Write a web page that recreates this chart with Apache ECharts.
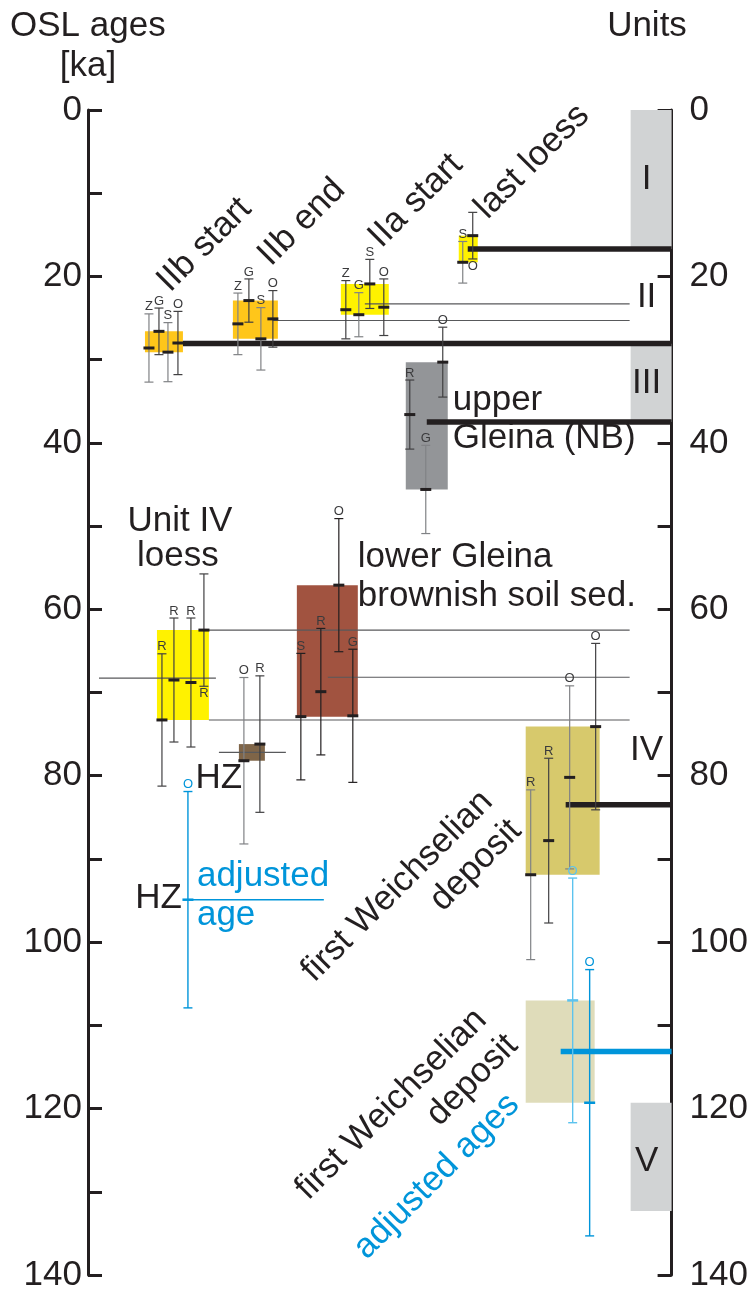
<!DOCTYPE html>
<html>
<head>
<meta charset="utf-8">
<script src="https://cdn.jsdelivr.net/npm/echarts@6/dist/echarts.min.js"></script>
<style>
  html, body { margin: 0; padding: 0; background: #fff; }
  #chart { width: 751px; height: 1293px; }
</style>
</head>
<body>
<div id="chart"></div>
<script>
// ---- Age axis (ka) ----
const ageMin = 0;
const ageMax = 140;
const ageTickStep = 10;
const ageTickLabels = [0, 20, 40, 60, 80, 100, 120, 140];

// ---- OSL ages per sample group: sample code, age (ka), 1-sigma error (ka) ----
const iibStartSamples = ['Z', 'G', 'S', 'O'];
const iibStartAges    = [28.6, 26.6, 29.1, 28.0];
const iibStartErrors  = [4.1, 2.8, 3.55, 3.8];

const iibEndSamples = ['Z', 'G', 'S', 'O'];
const iibEndAges    = [25.7, 22.9, 27.5, 25.1];
const iibEndErrors  = [3.7, 2.6, 3.75, 3.4];

const iiaStartSamples = ['Z', 'G', 'S', 'O'];
const iiaStartAges    = [24.0, 24.6, 20.9, 23.7];
const iiaStartErrors  = [3.5, 2.65, 2.95, 3.4];

const lastLoessSamples = ['S', 'O'];
const lastLoessAges    = [18.3, 15.1];
const lastLoessErrors  = [2.5, 2.8];

const upperGleinaSamples = ['R', 'G', 'O'];
const upperGleinaAges    = [36.6, 45.6, 30.3];
const upperGleinaErrors  = [4.15, 5.3, 4.2];

const unitIVLoessSamples = ['R', 'R', 'R', 'R'];
const unitIVLoessAges    = [73.3, 68.5, 68.8, 62.5];
const unitIVLoessErrors  = [7.95, 7.45, 7.75, 6.75];

const hzSamples = ['O', 'R'];
const hzAges    = [78.2, 76.2];
const hzErrors  = [10.0, 8.2];

const lowerGleinaSamples = ['S', 'R', 'O', 'G'];
const lowerGleinaAges    = [72.9, 69.9, 57.1, 72.8];
const lowerGleinaErrors  = [7.6, 7.6, 8.0, 8.0];

const firstWeichselianSamples = ['R', 'R', 'O', 'O'];
const firstWeichselianAges    = [91.9, 87.8, 80.2, 74.1];
const firstWeichselianErrors  = [10.2, 9.9, 11.0, 10.0];

const adjustedWeichselianSamples = ['O', 'O'];
const adjustedWeichselianAges    = [107.0, 119.3];
const adjustedWeichselianErrors  = [14.7, 16.0];

const hzAdjustedSamples = ['O'];
const hzAdjustedAges    = [94.9];
const hzAdjustedErrors  = [13.0];

// ---- Stratigraphic units ----
const unitNames = ['I', 'II', 'III', 'IV', 'V'];
const unitShadedBands = [[0, 16.7], [28.1, 37.5], [119.3, 132.3]];

// ---- Drawing setup ----
const FONT = '"Liberation Sans", Arial, Helvetica, sans-serif';
const INK = '#231F20';
const GREY = '#808285';
const DARK = '#414042';
const BLUE = '#0095DA';
const LIGHT_BLUE = '#5CC3EE';

// section position (horizontal units, 0..584) of each column, box span, fill, bar tones, mean line
const groups = [
  { samples: iibStartSamples, ages: iibStartAges, errors: iibStartErrors,
    cols: [61, 71, 80, 90], box: [57, 95], fill: '#FFC61A',
    tones: [GREY, DARK, GREY, DARK], mean: { from: 95, to: 584, kind: 'thick' } },
  { samples: iibEndSamples, ages: iibEndAges, errors: iibEndErrors,
    cols: [150, 161, 173, 185], box: [145, 190], fill: '#FFC61A',
    tones: [GREY, DARK, GREY, DARK], mean: { from: 185, to: 542, kind: 'thin' } },
  { samples: iiaStartSamples, ages: iiaStartAges, errors: iiaStartErrors,
    cols: [258, 271, 282, 296], box: [253, 301], fill: '#FFF200',
    tones: [DARK, GREY, DARK, DARK], mean: { from: 277, to: 542, kind: 'thin' } },
  { samples: lastLoessSamples, ages: lastLoessAges, errors: lastLoessErrors,
    cols: [375, 385], box: [371, 390], fill: '#FFF200',
    tones: [GREY, DARK], below: [false, true], mean: { from: 380, to: 584, kind: 'thick' } },
  { samples: upperGleinaSamples, ages: upperGleinaAges, errors: upperGleinaErrors,
    cols: [322, 338, 355], box: [318, 360], fill: '#939598',
    tones: [DARK, GREY, DARK], mean: { from: 339, to: 584, kind: 'thick' } },
  { samples: unitIVLoessSamples, ages: unitIVLoessAges, errors: unitIVLoessErrors,
    cols: [74, 86, 103, 116], box: [69, 121], fill: '#FFF200',
    tones: [DARK, DARK, DARK, DARK], below: [false, false, false, true],
    mean: { from: 11, to: 128, kind: 'thin' },
    edges: { minFrom: 116, maxFrom: 121, to: 542 } },
  { samples: hzSamples, ages: hzAges, errors: hzErrors,
    cols: [156, 172], box: [151, 177], fill: '#7F6548',
    tones: [GREY, DARK], mean: { from: 131, to: 198, kind: 'thin' } },
  { samples: lowerGleinaSamples, ages: lowerGleinaAges, errors: lowerGleinaErrors,
    cols: [213, 233, 251, 265], box: [209, 270], fill: '#A15340',
    tones: [INK, INK, INK, INK], mean: { from: 240, to: 542, kind: 'thin' } },
  { samples: firstWeichselianSamples, ages: firstWeichselianAges, errors: firstWeichselianErrors,
    cols: [443, 461, 482, 508], box: [438, 512], fill: '#D7C96C',
    tones: [GREY, DARK, GREY, DARK], mean: { from: 478, to: 584, kind: 'thick' } },
  { samples: adjustedWeichselianSamples, ages: adjustedWeichselianAges, errors: adjustedWeichselianErrors,
    cols: [485, 502], box: [438, 507], fill: '#DFDCBA', blue: true,
    tones: [LIGHT_BLUE, BLUE], mean: { from: 473, to: 584, kind: 'blueThick' } },
  { samples: hzAdjustedSamples, ages: hzAdjustedAges, errors: hzAdjustedErrors,
    cols: [100], box: null, blue: true,
    tones: [BLUE], mean: { from: 100, to: 236, kind: 'blueThin' } }
];

const lineStyles = {
  thick:     { stroke: INK, lineWidth: 5.5 },
  thin:      { stroke: '#58595B', lineWidth: 1.1 },
  blueThick: { stroke: BLUE, lineWidth: 5.5 },
  blueThin:  { stroke: BLUE, lineWidth: 1.6 }
};

// ---- Derived rows ----
const mean = a => a.reduce((s, v) => s + v, 0) / a.length;

const barRows = [];
const boxRows = [];
const lineRows = [];
groups.forEach(g => {
  g.samples.forEach((s, i) => {
    barRows.push({ x: g.cols[i], age: g.ages[i], err: g.errors[i], label: s,
      color: g.tones[i], blue: !!g.blue, below: g.below ? g.below[i] : false });
  });
  const lo = Math.min(...g.ages), hi = Math.max(...g.ages);
  if (g.box) boxRows.push({ x0: g.box[0], x1: g.box[1], lo, hi, fill: g.fill });
  lineRows.push({ x0: g.mean.from, x1: g.mean.to, age: mean(g.ages), kind: g.mean.kind });
  if (g.edges) {
    lineRows.push({ x0: g.edges.minFrom, x1: g.edges.to, age: lo, kind: 'thin' });
    lineRows.push({ x0: g.edges.maxFrom, x1: g.edges.to, age: hi, kind: 'thin' });
  }
});
const bandRows = unitShadedBands.map(b => ({ x0: 543, x1: 584, lo: b[0], hi: b[1] }));

function rectItem(rows, fillOf) {
  return function (params, api) {
    const r = rows[params.dataIndex];
    const p0 = api.coord([r.x0, r.lo]);
    const p1 = api.coord([r.x1, r.hi]);
    return { type: 'rect',
      shape: { x: p0[0], y: p0[1], width: p1[0] - p0[0], height: p1[1] - p0[1] },
      style: { fill: fillOf(r) } };
  };
}

function lineItem(params, api) {
  const r = lineRows[params.dataIndex];
  const p0 = api.coord([r.x0, r.age]);
  const p1 = api.coord([r.x1, r.age]);
  return { type: 'line', shape: { x1: p0[0], y1: p0[1], x2: p1[0], y2: p1[1] },
    style: Object.assign({}, lineStyles[r.kind]) };
}

function errorBarItem(params, api) {
  const r = barRows[params.dataIndex];
  const top = api.coord([r.x, r.age - r.err]);
  const mid = api.coord([r.x, r.age]);
  const bot = api.coord([r.x, r.age + r.err]);
  const cap = 4.5;
  const lw = r.blue ? 1.4 : 1.2;
  const markColor = r.blue ? r.color : INK;
  const labelColor = r.blue ? r.color : '#3A3A3C';
  const at = r.below ? bot : top;
  return { type: 'group', children: [
    { type: 'line', shape: { x1: top[0], y1: top[1], x2: bot[0], y2: bot[1] }, style: { stroke: r.color, lineWidth: lw } },
    { type: 'line', shape: { x1: top[0] - cap, y1: top[1], x2: top[0] + cap, y2: top[1] }, style: { stroke: r.color, lineWidth: lw } },
    { type: 'line', shape: { x1: bot[0] - cap, y1: bot[1], x2: bot[0] + cap, y2: bot[1] }, style: { stroke: r.color, lineWidth: lw } },
    { type: 'line', shape: { x1: mid[0] - 5.5, y1: mid[1], x2: mid[0] + 5.5, y2: mid[1] }, style: { stroke: markColor, lineWidth: r.blue ? 2.5 : 3 } },
    { type: 'text', style: { text: r.label, x: at[0], y: r.below ? at[1] + 1 : at[1] - 0.5,
      textAlign: 'center', textVerticalAlign: r.below ? 'top' : 'bottom',
      fill: labelColor, font: '13px ' + FONT } }
  ] };
}

const axisLabelFmt = v => (ageTickLabels.indexOf(v) >= 0 ? String(v) : '');
function ageAxis(position, margin) {
  return {
    type: 'value', position, inverse: true, min: ageMin, max: ageMax, interval: ageTickStep,
    axisLine: { show: true, lineStyle: { color: INK, width: 3 } },
    axisTick: { show: true, inside: true, length: 14, lineStyle: { color: INK, width: 3 } },
    splitLine: { show: false },
    axisLabel: { fontSize: 35, fontFamily: FONT, color: INK, margin, formatter: axisLabelFmt }
  };
}

const chart = echarts.init(document.getElementById('chart'), null, { renderer: 'canvas' });
chart.setOption({
  animation: false,
  backgroundColor: '#ffffff',
  grid: { left: 88, right: 79, top: 110, bottom: 18 },
  xAxis: { type: 'value', min: 0, max: 584, show: false },
  yAxis: [ageAxis('left', 6), ageAxis('right', 18)],
  series: [
    { type: 'custom', name: 'units', z: 1, clip: false, renderItem: rectItem(bandRows, () => '#D1D3D4'),
      data: bandRows.map(r => [r.x0, r.lo, r.x1, r.hi]) },
    { type: 'custom', name: 'ranges', z: 2, clip: false, renderItem: rectItem(boxRows, r => r.fill),
      data: boxRows.map(r => [r.x0, r.lo, r.x1, r.hi]) },
    { type: 'custom', name: 'means', z: 3, clip: false, renderItem: lineItem,
      data: lineRows.map(r => [r.x0, r.age, r.x1]) },
    { type: 'custom', name: 'OSL ages', z: 4, clip: false, renderItem: errorBarItem,
      data: barRows.map(r => [r.x, r.age, r.err]) }
  ]
});

// ---- Annotations anchored in section/age coordinates ----
const big = '35px ' + FONT;
function px(x, age) { return chart.convertToPixel({ gridIndex: 0 }, [x, age]); }
function note(text, x, age, opts) {
  const p = px(x, age);
  const o = opts || {};
  return { type: 'text', x: p[0], y: p[1], rotation: o.rot ? o.rot * Math.PI / 180 : 0, z: 10,
    style: { text, x: 0, y: 0, font: o.font || big, fill: o.fill || INK,
      textAlign: o.align || 'center', textVerticalAlign: 'middle' } };
}
const unitLabelAges = [8.3, 22.5, 32.8, 76.9, 126.4];
const elements = [
  { type: 'text', x: 10, y: 26, style: { text: 'OSL ages', font: big, fill: INK, textAlign: 'left', textVerticalAlign: 'middle' } },
  { type: 'text', x: 88, y: 66, style: { text: '[ka]', font: big, fill: INK, textAlign: 'center', textVerticalAlign: 'middle' } },
  { type: 'text', x: 647, y: 26, style: { text: 'Units', font: big, fill: INK, textAlign: 'center', textVerticalAlign: 'middle' } },
  note('IIb start', 116.5, 16.2, { rot: 45 }),
  note('IIb end', 214, 13.5, { rot: 45 }),
  note('IIa start', 328, 10.9, { rot: 45 }),
  note('last loess', 444.5, 6.2, { rot: 45 }),
  note('upper', 365, 34.9, { align: 'left' }),
  note('Gleina (NB)', 365, 39.4, { align: 'left' }),
  note('Unit IV', 92, 49.4),
  note('loess', 90, 53.6),
  note('lower Gleina', 270, 53.8, { align: 'left' }),
  note('brownish soil sed.', 270, 58.5, { align: 'left' }),
  note('HZ', 131, 80.3),
  note('HZ', 94, 94.7, { align: 'right' }),
  note('adjusted', 109, 92.1, { align: 'left', fill: BLUE }),
  note('age', 109, 96.8, { align: 'left', fill: BLUE }),
  note('first Weichselian', 399.5, 82.5, { rot: 45, align: 'right' }),
  note('deposit', 428, 86.0, { rot: 45, align: 'right' }),
  note('first Weichselian', 393.5, 108.7, { rot: 45, align: 'right' }),
  note('deposit', 424.5, 111.8, { rot: 45, align: 'right' }),
  note('adjusted ages', 426, 118.9, { rot: 45, align: 'right', fill: BLUE })
];
unitNames.forEach((u, i) => elements.push(note(u, 559, unitLabelAges[i])));
chart.setOption({ graphic: { elements } });
</script>
</body>
</html>
